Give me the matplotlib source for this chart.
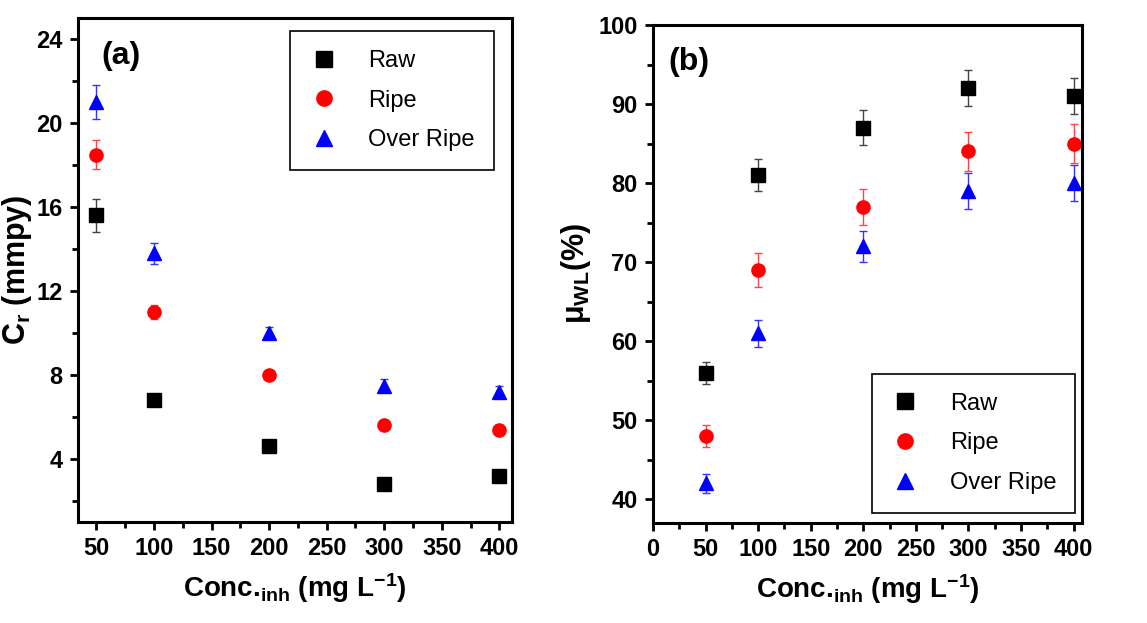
import numpy as np
import matplotlib.pyplot as plt
from matplotlib.lines import Line2D

plt.rcParams['font.family'] = ['Liberation Sans', 'DejaVu Sans']
plt.rcParams['font.weight'] = 'bold'
plt.rcParams['mathtext.fontset'] = 'custom'
plt.rcParams['mathtext.rm'] = 'Liberation Sans:bold'
plt.rcParams['mathtext.bf'] = 'Liberation Sans:bold'
plt.rcParams['mathtext.it'] = 'Liberation Sans:bold'
plt.rcParams['mathtext.default'] = 'bf'

conc = np.array([50, 100, 200, 300, 400])

# corrosion rate (mmpy)
cr_raw = [15.6, 6.8, 4.6, 2.8, 3.2]
cr_raw_err = [0.8, 0.2, 0.2, 0.2, 0.2]
cr_ripe = [18.5, 11.0, 8.0, 5.6, 5.4]
cr_ripe_err = [0.7, 0.35, 0.2, 0.2, 0.2]
cr_over = [21.0, 13.8, 10.0, 7.5, 7.2]
cr_over_err = [0.8, 0.5, 0.3, 0.3, 0.3]

# inhibition efficiency (%)
mu_raw = [56, 81, 87, 92, 91]
mu_raw_err = [1.4, 2.0, 2.2, 2.3, 2.3]
mu_ripe = [48, 69, 77, 84, 85]
mu_ripe_err = [1.4, 2.2, 2.3, 2.5, 2.5]
mu_over = [42, 61, 72, 79, 80]
mu_over_err = [1.2, 1.7, 2.0, 2.3, 2.3]

labels = ['Raw', 'Ripe', 'Over Ripe']
markers = ['s', 'o', '^']
colors = ['black', 'red', 'blue']
ecolors = ['#444444', '#ff4444', '#3333ff']

fig = plt.figure(figsize=(11.47, 6.23), dpi=100)
ax1 = fig.add_axes([78/1147, 1-522/623, 434/1147, 504/623])
ax2 = fig.add_axes([653/1147, 1-523/623, 429/1147, 498/623])


def draw(ax, series, errs):
    for y, e, m, c, ec in zip(series, errs, markers, colors, ecolors):
        ax.errorbar(conc, y, yerr=e, fmt=m, color=c, ecolor=ec, ms=9.5,
                    elinewidth=1, capsize=3, capthick=1)


draw(ax1, [cr_raw, cr_ripe, cr_over], [cr_raw_err, cr_ripe_err, cr_over_err])
draw(ax2, [mu_raw, mu_ripe, mu_over], [mu_raw_err, mu_ripe_err, mu_over_err])

ax1.set_xlim(34, 411)
ax1.set_ylim(1, 25)
ax1.set_xticks(np.arange(50, 401, 50))
ax1.set_xticks(np.arange(75, 400, 50), minor=True)
ax1.set_yticks([4, 8, 12, 16, 20, 24])
ax1.set_yticks([2, 6, 10, 14, 18, 22], minor=True)

ax2.set_xlim(0, 408)
ax2.set_ylim(37, 100)
ax2.set_xticks(np.arange(0, 401, 50))
ax2.set_xticks(np.arange(25, 400, 50), minor=True)
ax2.set_yticks(np.arange(40, 101, 10))
ax2.set_yticks(np.arange(45, 100, 10), minor=True)

for ax in (ax1, ax2):
    for s in ax.spines.values():
        s.set_linewidth(2.2)
    ax.tick_params(which='major', direction='out', length=6, width=2,
                   labelsize=17, top=False, right=False, pad=5)
    ax.tick_params(which='minor', direction='out', length=4, width=2,
                   top=False, right=False)
    for t in ax.get_xticklabels() + ax.get_yticklabels():
        t.set_fontweight('bold')

xlab = r'Conc.$_{\mathbf{inh}}$ (mg L$^{\mathbf{-1}}$)'
ax1.set_xlabel(xlab, fontsize=20, fontweight='bold', labelpad=8)
ax1.set_ylabel(r'C$_{\mathbf{r}}$ (mmpy)', fontsize=22, fontweight='bold', labelpad=2)
ax2.set_xlabel(xlab, fontsize=20, fontweight='bold', labelpad=8)
ax2.set_ylabel(r'$\mathbf{\mu}_{\mathbf{WL}}$(%)', fontsize=22, fontweight='bold', labelpad=4)

ax1.text(0.055, 0.955, '(a)', transform=ax1.transAxes, fontsize=23,
         fontweight='bold', va='top')
ax2.text(0.035, 0.955, '(b)', transform=ax2.transAxes, fontsize=23,
         fontweight='bold', va='top')

handles = [Line2D([], [], ls='none', marker=m, color=c, ms=11)
           for m, c in zip(markers, colors)]
leg_kw = dict(frameon=True, fancybox=False, edgecolor='black', framealpha=1,
              handlelength=1.2, handletextpad=1.3, labelspacing=0.75,
              borderpad=0.8, borderaxespad=0,
              prop={'weight': 'normal', 'size': 17})
l1 = ax1.legend(handles, labels, loc='upper right',
                bbox_to_anchor=(0.958, 0.974), **leg_kw)
l2 = ax2.legend(handles, labels, loc='lower right',
                bbox_to_anchor=(0.984, 0.02), **leg_kw)
for leg in (l1, l2):
    leg.get_frame().set_linewidth(1.2)

fig.savefig('out.png', dpi=100)
